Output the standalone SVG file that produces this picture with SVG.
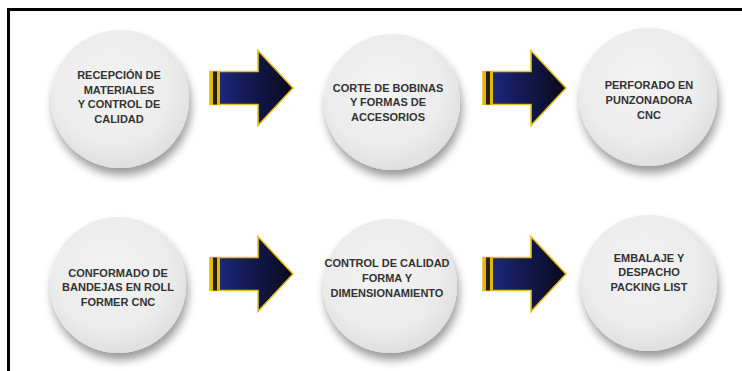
<svg xmlns="http://www.w3.org/2000/svg" width="742" height="371" viewBox="0 0 742 371">
  <style>
    .node-circle { fill: url(#circleGrad); filter: url(#shadow); }
    .label { font-family: "Liberation Sans", Arial, sans-serif; font-weight: bold; font-size: 11px; fill: #333333; text-anchor: middle; }
    .gold { fill: #e0b810; }
    .dark { fill: #2a2000; }
  </style>
  <defs>
    <radialGradient id="circleGrad" cx="0.45" cy="0.4" r="0.6">
      <stop offset="0" stop-color="#f3f3f3"/>
      <stop offset="0.7" stop-color="#ececec"/>
      <stop offset="1" stop-color="#e0e0e0"/>
    </radialGradient>
    <filter id="shadow" x="-30%" y="-30%" width="170%" height="170%">
      <feGaussianBlur in="SourceAlpha" stdDeviation="5"/>
      <feOffset dx="2" dy="7" result="b"/>
      <feComponentTransfer><feFuncA type="linear" slope="0.4"/></feComponentTransfer>
      <feMerge><feMergeNode/><feMergeNode in="SourceGraphic"/></feMerge>
    </filter>
    <linearGradient id="arrowGrad" x1="0" y1="0" x2="1" y2="0">
      <stop offset="0" stop-color="#1e2c8a"/>
      <stop offset="0.45" stop-color="#141a55"/>
      <stop offset="1" stop-color="#0a0a1a"/>
    </linearGradient>
    <g id="arrow">
      <path d="M0,-16.5 H48 V-37.5 L83,0 L48,37.5 V16.5 H0 Z" fill="url(#arrowGrad)" stroke="#e6c020" stroke-width="1.6" stroke-linejoin="miter"/>
      <rect class="gold" x="0" y="-16.5" width="3" height="33"/>
      <rect class="dark" x="3" y="-16.5" width="4" height="33"/>
      <rect class="gold" x="7" y="-16.5" width="3" height="33"/>
    </g>
  </defs>
  <rect x="0" y="0" width="742" height="371" fill="#ffffff"/>
  <path d="M8.5,371 V9.5 H742" fill="none" stroke="#000" stroke-width="3"/>

  <g id="connectors">
    <use href="#arrow" x="210" y="88"/>
    <use href="#arrow" x="483" y="88"/>
    <use href="#arrow" x="210" y="274"/>
    <use href="#arrow" x="483" y="274"/>
  </g>

  <g id="node1">
    <circle class="node-circle" cx="120" cy="99" r="69"/>
    <text class="label" x="119" y="79">RECEPCIÓN DE</text>
    <text class="label" x="119" y="94">MATERIALES</text>
    <text class="label" x="119" y="108">Y CONTROL DE</text>
    <text class="label" x="119" y="123">CALIDAD</text>
  </g>
  <g id="node2">
    <circle class="node-circle" cx="392" cy="102" r="68"/>
    <text class="label" x="388" y="92">CORTE DE BOBINAS</text>
    <text class="label" x="388" y="106">Y FORMAS DE</text>
    <text class="label" x="388" y="121">ACCESORIOS</text>
  </g>
  <g id="node3">
    <circle class="node-circle" cx="648" cy="97" r="69"/>
    <text class="label" x="649" y="89">PERFORADO EN</text>
    <text class="label" x="649" y="104">PUNZONADORA</text>
    <text class="label" x="649" y="119">CNC</text>
  </g>
  <g id="node4">
    <circle class="node-circle" cx="118" cy="285" r="68"/>
    <text class="label" x="118" y="277">CONFORMADO DE</text>
    <text class="label" x="118" y="291">BANDEJAS EN ROLL</text>
    <text class="label" x="118" y="306">FORMER CNC</text>
  </g>
  <g id="node5">
    <circle class="node-circle" cx="390" cy="286" r="67"/>
    <text class="label" x="387" y="267">CONTROL DE CALIDAD</text>
    <text class="label" x="387" y="282">FORMA Y</text>
    <text class="label" x="387" y="297">DIMENSIONAMIENTO</text>
  </g>
  <g id="node6">
    <circle class="node-circle" cx="649" cy="283" r="68"/>
    <text class="label" x="649" y="262">EMBALAJE Y</text>
    <text class="label" x="649" y="276">DESPACHO</text>
    <text class="label" x="649" y="291">PACKING LIST</text>
  </g>
</svg>
